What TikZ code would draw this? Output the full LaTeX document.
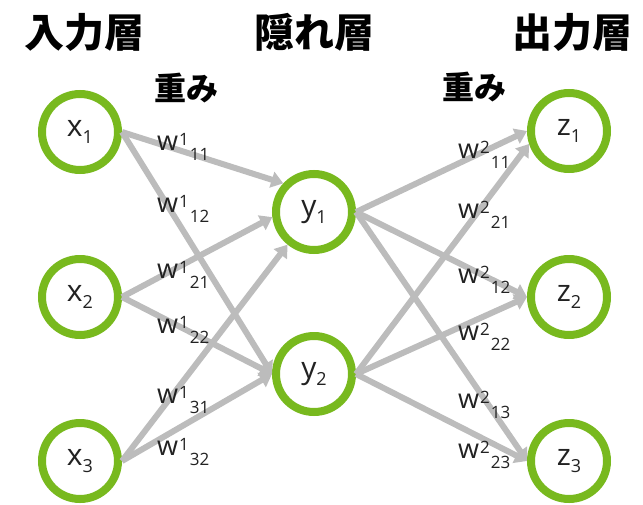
\documentclass[tikz,border=0pt]{standalone}
\usepackage{fontspec}
\setmainfont{Open Sans}
\newfontfamily\cjk{Noto Sans CJK JP}
\usetikzlibrary{arrows.meta}
\definecolor{nodegreen}{RGB}{120,185,30}
\definecolor{arrowgray}{RGB}{188,188,188}
\definecolor{txt}{RGB}{34,34,34}
\newcommand{\wlab}[3]{{\fontsize{27}{27}\selectfont w}\kern1pt\raisebox{5pt}{\fontsize{17}{17}\selectfont #1}\kern1pt\raisebox{-10pt}{\fontsize{17}{17}\selectfont #2#3}}
\newcommand{\nlab}[2]{{\fontsize{30}{30}\selectfont #1}\raisebox{-7pt}{\fontsize{18}{18}\selectfont #2}}
\begin{document}
\begin{tikzpicture}[x=1pt,y=-1pt,
  neuron/.style={circle,draw=nodegreen,line width=8pt,fill=white,minimum size=76pt,inner sep=0pt,text=txt},
  conn/.style={draw=arrowgray,line width=6pt,-{Triangle[width=16pt,length=12pt]}},
  title/.style={font=\cjk\bfseries\fontsize{40}{40}\selectfont,text=black},
  wtitle/.style={font=\cjk\bfseries\fontsize{32}{32}\selectfont,text=black},
  wl/.style={anchor=base west,inner sep=0pt,text=txt}]
\useasboundingbox (0,0) rectangle (643,504);
% titles
\node[title] (t1) at (84,32) {入力層};
\node[title] (t2) at (314,32) {隠れ層};
\node[title] (t3) at (572,32) {出力層};
\node[wtitle] (o1) at (186,88) {重み};
\node[wtitle] (o2) at (474,87) {重み};
% neurons
\node[neuron] (x1) at (80,132) {\nlab{x}{1}};
\node[neuron] (x2) at (80,297) {\nlab{x}{2}};
\node[neuron] (x3) at (80,461) {\nlab{x}{3}};
\node[neuron] (y1) at (314,212) {\nlab{y}{1}};
\node[neuron] (y2) at (314,374) {\nlab{y}{2}};
\node[neuron] (z1) at (569,131) {\nlab{z}{1}};
\node[neuron] (z2) at (569,297) {\nlab{z}{2}};
\node[neuron] (z3) at (569,461) {\nlab{z}{3}};
% connections layer 1
\draw[conn] (x1.east) -- (y1.137);
\draw[conn] (x1.east) -- (y2.west);
\draw[conn] (x2.east) -- (y1.187);
\draw[conn] (x2.east) -- (y2.west);
\draw[conn] (x3.east) -- (y1.231);
\draw[conn] (x3.east) -- (y2.west);
% connections layer 2
\draw[conn] (y1.east) -- (z1.west);
\draw[conn] (y1.east) -- (z2.west);
\draw[conn] (y1.east) -- (z3.west);
\draw[conn] (y2.east) -- (z1.198);
\draw[conn] (y2.east) -- (z2.west);
\draw[conn] (y2.east) -- (z3.west);
% weight labels
\node[wl] (w111) at (157,150) {\wlab{1}{1}{1}};
\node[wl] (w112) at (157,212) {\wlab{1}{1}{2}};
\node[wl] (w121) at (157,278) {\wlab{1}{2}{1}};
\node[wl] (w122) at (157,333) {\wlab{1}{2}{2}};
\node[wl] (w131) at (157,403) {\wlab{1}{3}{1}};
\node[wl] (w132) at (157,455) {\wlab{1}{3}{2}};
\node[wl] (w211) at (458,158) {\wlab{2}{1}{1}};
\node[wl] (w221) at (458,218) {\wlab{2}{2}{1}};
\node[wl] (w212) at (458,283) {\wlab{2}{1}{2}};
\node[wl] (w222) at (458,340) {\wlab{2}{2}{2}};
\node[wl] (w213) at (458,408) {\wlab{2}{1}{3}};
\node[wl] (w223) at (458,458) {\wlab{2}{2}{3}};
\end{tikzpicture}
\end{document}
